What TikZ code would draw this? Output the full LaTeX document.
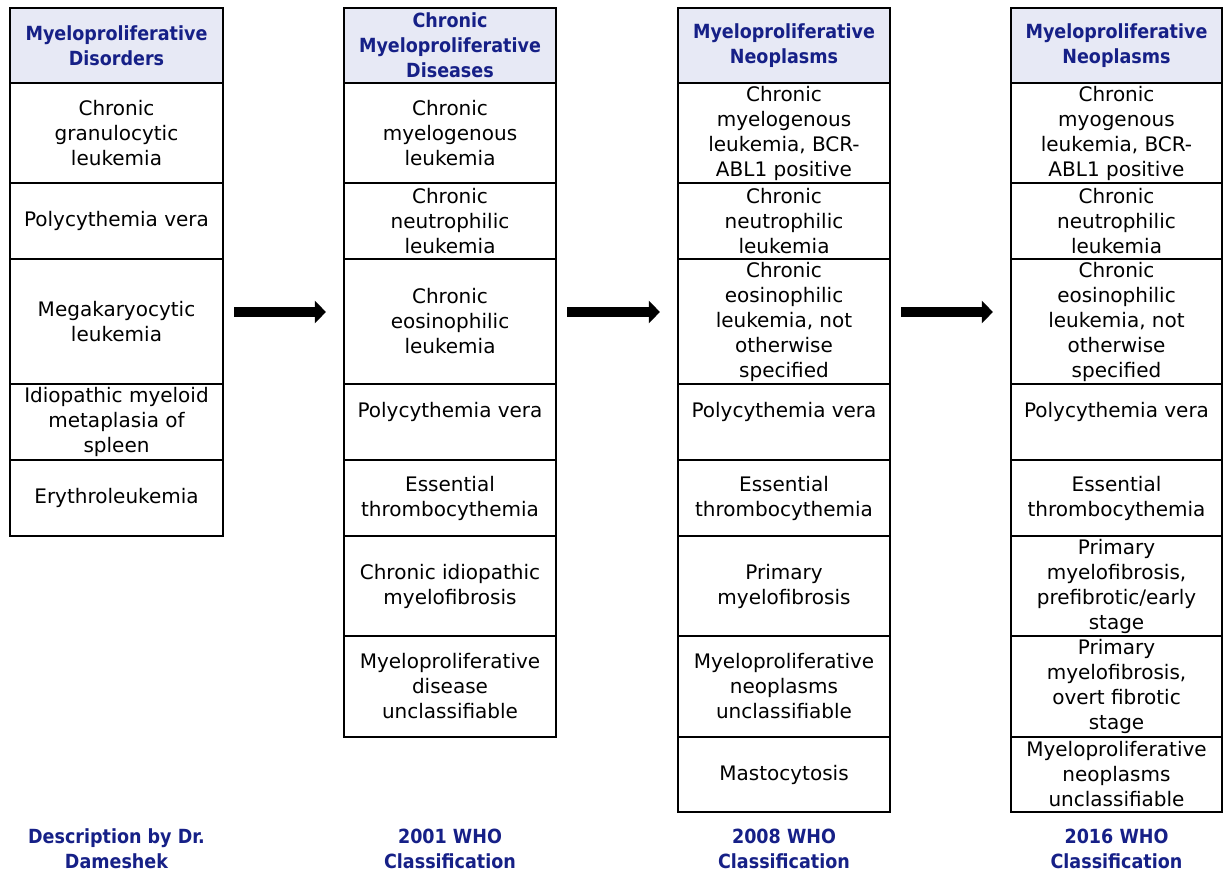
\documentclass[tikz,border=0pt]{standalone}
\usepackage{fontspec}
\setmainfont{DejaVu Sans}
\newfontfamily\headfont{DejaVu Sans Condensed}
\usepackage{xcolor}
\usetikzlibrary{positioning, arrows.meta, calc}
\definecolor{headblue}{RGB}{22,32,135}
\definecolor{headfill}{RGB}{231,233,245}
\tikzset{
  cell/.style={draw, line width=2.2pt, align=center, inner sep=0pt,
    font=\fontsize{20}{25}\selectfont},
  headcell/.style={cell, fill=headfill, text=headblue,
    font=\headfont\fontsize{19.5}{25}\selectfont\bfseries},
  yearlabel/.style={align=center, text=headblue,
    font=\headfont\fontsize{19.5}{25}\selectfont\bfseries},
  colA/.style={minimum width=213pt},
  colB/.style={minimum width=212pt},
  colC/.style={minimum width=212pt},
  colD/.style={minimum width=211pt},
  blockarrow/.style={line width=9.5pt, -{Triangle[length=11pt,width=22pt]}}
}

\begin{document}
\begin{tikzpicture}[x=1pt,y=-1pt]
        \useasboundingbox (0,0) rectangle (1223,872);

        % ==========================================
        % Column 1: Dameshek
        % ==========================================
        \node[headcell, colA, minimum height=75pt] (h1) at (116.5,45.5) {Myeloproliferative\\Disorders};
        \node[cell, colA, minimum height=100pt] (c1r1) at (116.5,133) {Chronic\\granulocytic\\leukemia};
        \node[cell, colA, minimum height=76pt] (c1r2) at (116.5,221) {Polycythemia vera};
        \node[cell, colA, minimum height=125pt] (c1r3) at (116.5,321.5) {Megakaryocytic\\leukemia};
        \node[cell, colA, minimum height=76pt] (c1r4) at (116.5,422) {Idiopathic myeloid\\metaplasia of\\spleen};
        \node[cell, colA, minimum height=76pt] (c1r5) at (116.5,498) {Erythroleukemia};

        % ==========================================
        % Column 2: 2001 WHO
        % ==========================================
        \node[headcell, colB, minimum height=75pt] (h2) at (450,45.5) {Chronic\\Myeloproliferative\\Diseases};
        \node[cell, colB, minimum height=100pt] (c2r1) at (450,133) {Chronic\\myelogenous\\leukemia};
        \node[cell, colB, minimum height=76pt] (c2r2) at (450,221) {Chronic\\neutrophilic\\leukemia};
        \node[cell, colB, minimum height=125pt] (c2r3) at (450,321.5) {Chronic\\eosinophilic\\leukemia};
        \node[cell, colB, minimum height=76pt] (c2r4) at (450,422) {Polycythemia vera\\ \mbox{}};
        \node[cell, colB, minimum height=76pt] (c2r5) at (450,498) {Essential\\thrombocythemia};
        \node[cell, colB, minimum height=100pt] (c2r6) at (450,586) {Chronic idiopathic\\myelofibrosis};
        \node[cell, colB, minimum height=101pt] (c2r7) at (450,686.5) {Myeloproliferative\\disease\\unclassifiable};

        % ==========================================
        % Column 3: 2008 WHO
        % ==========================================
        \node[headcell, colC, minimum height=75pt] (h3) at (784,45.5) {Myeloproliferative\\Neoplasms};
        \node[cell, colC, minimum height=100pt] (c3r1) at (784,133) {Chronic\\myelogenous\\leukemia, BCR-\\ABL1 positive};
        \node[cell, colC, minimum height=76pt] (c3r2) at (784,221) {Chronic\\neutrophilic\\leukemia};
        \node[cell, colC, minimum height=125pt] (c3r3) at (784,321.5) {Chronic\\eosinophilic\\leukemia, not\\otherwise\\specified};
        \node[cell, colC, minimum height=76pt] (c3r4) at (784,422) {Polycythemia vera\\ \mbox{}};
        \node[cell, colC, minimum height=76pt] (c3r5) at (784,498) {Essential\\thrombocythemia};
        \node[cell, colC, minimum height=100pt] (c3r6) at (784,586) {Primary\\myelofibrosis};
        \node[cell, colC, minimum height=101pt] (c3r7) at (784,686.5) {Myeloproliferative\\neoplasms\\unclassifiable};
        \node[cell, colC, minimum height=75pt] (c3r8) at (784,774.5) {Mastocytosis};

        % ==========================================
        % Column 4: 2016 WHO
        % ==========================================
        \node[headcell, colD, minimum height=75pt] (h4) at (1116.5,45.5) {Myeloproliferative\\Neoplasms};
        \node[cell, colD, minimum height=100pt] (c4r1) at (1116.5,133) {Chronic\\myogenous\\leukemia, BCR-\\ABL1 positive};
        \node[cell, colD, minimum height=76pt] (c4r2) at (1116.5,221) {Chronic\\neutrophilic\\leukemia};
        \node[cell, colD, minimum height=125pt] (c4r3) at (1116.5,321.5) {Chronic\\eosinophilic\\leukemia, not\\otherwise\\specified};
        \node[cell, colD, minimum height=76pt] (c4r4) at (1116.5,422) {Polycythemia vera\\ \mbox{}};
        \node[cell, colD, minimum height=76pt] (c4r5) at (1116.5,498) {Essential\\thrombocythemia};
        \node[cell, colD, minimum height=100pt] (c4r6) at (1116.5,586) {Primary\\myelofibrosis,\\prefibrotic/early\\stage};
        \node[cell, colD, minimum height=101pt] (c4r7) at (1116.5,686.5) {Primary\\myelofibrosis,\\overt fibrotic\\stage};
        \node[cell, colD, minimum height=75pt] (c4r8) at (1116.5,774.5) {Myeloproliferative\\neoplasms\\unclassifiable};

        % ==========================================
        % Year labels
        % ==========================================
        \node[yearlabel] (y1) at (116.5,848.5) {Description by Dr.\\Dameshek};
        \node[yearlabel] (y2) at (450,848.5) {2001 WHO\\Classification};
        \node[yearlabel] (y3) at (784,848.5) {2008 WHO\\Classification};
        \node[yearlabel] (y4) at (1116.5,848.5) {2016 WHO\\Classification};

        % ==========================================
        % Arrows between columns
        % ==========================================
        \draw[blockarrow] ([shift={(10,-9.5)}]c1r3.east) -- ([shift={(-17,-9.5)}]c2r3.west);
        \draw[blockarrow] ([shift={(10,-9.5)}]c2r3.east) -- ([shift={(-17,-9.5)}]c3r3.west);
        \draw[blockarrow] ([shift={(10,-9.5)}]c3r3.east) -- ([shift={(-17,-9.5)}]c4r3.west);

    \end{tikzpicture}
\end{document}
